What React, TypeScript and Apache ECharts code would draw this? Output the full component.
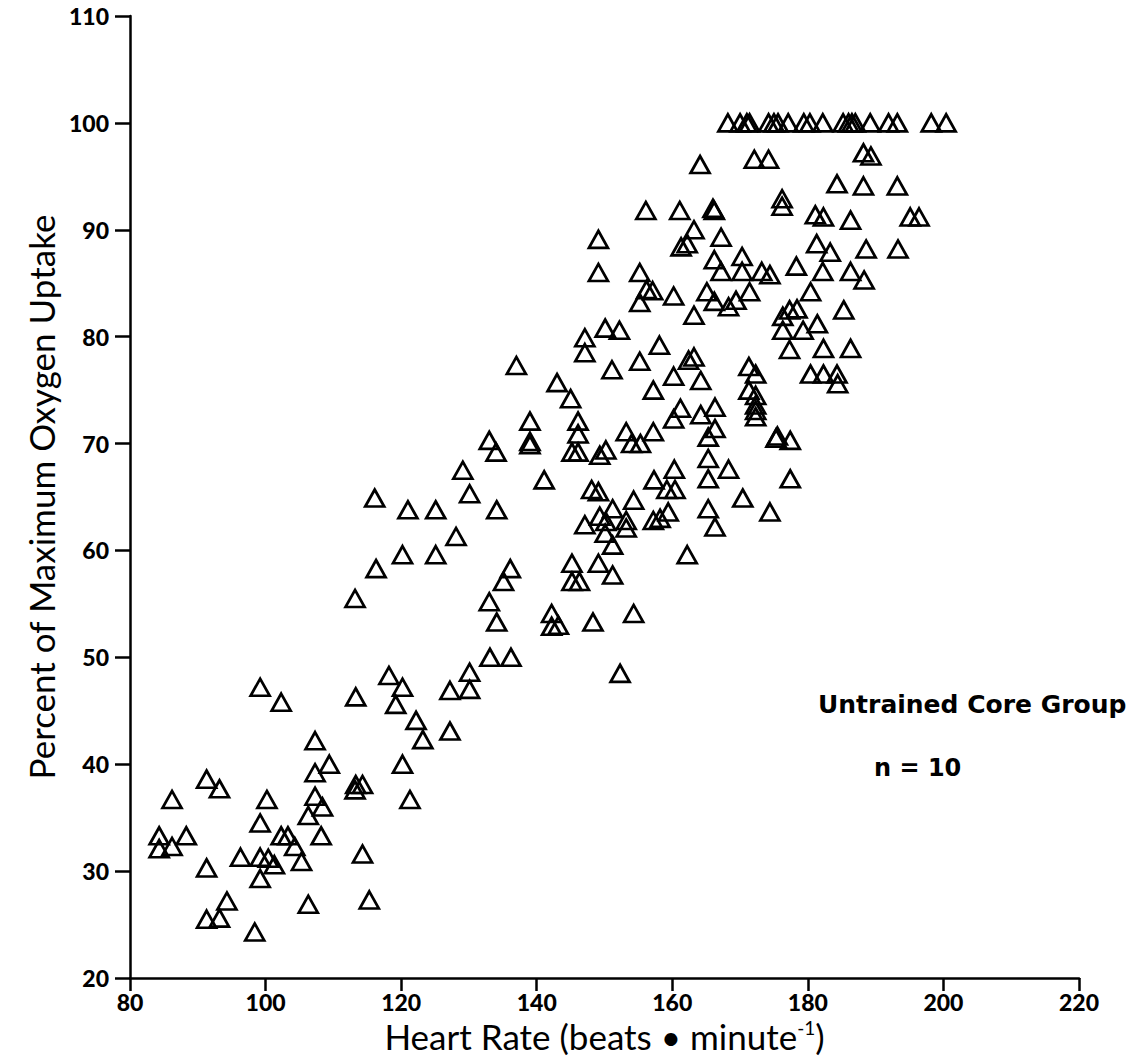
import React, { useEffect, useRef } from "react";
import * as echarts from "echarts";

const xTicks = [80, 100, 120, 140, 160, 180, 200, 220];
const yTicks = [20, 30, 40, 50, 60, 70, 80, 90, 100, 110];

// Heart rate (beats/min) of each observation
const heartRate = [
  168.2, 170.0, 171.0, 171.4, 174.2, 175.0, 175.6, 177.1, 179.4, 180.3, 182.2, 185.2, 186.0, 186.5, 187.0, 189.2, 191.9, 193.2, 198.2, 200.4,
  164.1, 172.1, 174.2, 188.2, 189.3, 184.3, 188.2, 193.2, 176.2, 176.2, 156.1, 161.1, 166.2, 166.0, 181.1, 182.3, 186.3, 195.1, 196.4, 163.2,
  162.2, 161.3, 149.1, 167.2, 181.3, 183.3, 188.6, 193.3, 166.2, 170.3, 149.1, 155.2, 167.2, 170.3, 173.2, 174.4, 178.3, 182.2, 186.3, 188.3,
  156.2, 157.1, 155.2, 160.2, 165.1, 166.2, 168.3, 169.4, 171.4, 180.4, 176.3, 177.3, 178.4, 185.3, 163.2, 150.1, 152.2, 147.1, 147.1, 137.0,
  158.1, 163.2, 162.4, 155.2, 151.1, 160.2, 164.2, 143.0, 157.2, 176.3, 179.3, 181.4, 177.3, 182.3, 186.3, 180.4, 182.3, 184.3, 184.4, 171.3,
  172.3, 171.3, 172.3, 145.0, 166.3, 172.3, 172.3, 172.3, 166.3, 165.3, 175.3, 175.5, 177.4, 165.3, 168.3, 165.3, 177.4, 170.4, 165.3, 174.4,
  166.3, 161.2, 160.2, 164.2, 139.0, 146.1, 146.1, 153.2, 157.2, 154.0, 155.3, 133.0, 134.0, 139.0, 139.0, 145.2, 146.1, 149.3, 150.2, 129.1,
  141.1, 130.1, 148.1, 149.1, 157.3, 160.3, 159.2, 160.4, 125.1, 134.1, 151.2, 154.3, 149.3, 150.2, 153.2, 153.2, 147.1, 150.1, 151.2, 157.2,
  158.2, 159.4, 128.1, 125.1, 162.2, 136.1, 135.1, 145.2, 145.2, 146.3, 149.1, 151.2, 133.0, 134.1, 142.2, 142.2, 143.2, 148.3, 154.3, 133.1,
  136.2, 130.1, 130.1, 127.2, 152.3, 116.1, 121.0, 116.3, 120.2, 113.2, 118.2, 120.2, 99.2, 102.3, 113.3, 119.2, 122.2, 123.2, 107.3, 109.4,
  107.3, 120.2, 91.3, 93.2, 86.2, 100.2, 113.3, 114.3, 113.2, 121.3, 107.3, 108.4, 106.3, 99.2, 84.3, 88.3, 84.3, 86.2, 102.3, 103.3,
  104.3, 108.2, 96.3, 99.2, 100.4, 101.3, 105.3, 91.3, 99.2, 114.3, 94.3, 91.3, 93.2, 98.4, 106.3, 115.3, 127.2,
];

// Percent of maximum oxygen uptake of each observation (same order)
const percentUptake = [
  100, 100, 100, 100, 100, 100, 100, 100, 100, 100, 100, 100, 100, 100, 100, 100, 100, 100, 100, 100,
  96.1, 96.6, 96.6, 97.2, 96.9, 94.3, 94.1, 94.1, 92.9, 92.2, 91.8, 91.8, 91.8, 92.0, 91.4, 91.2, 90.9, 91.2, 91.2, 90.0,
  88.7, 88.4, 89.1, 89.3, 88.7, 87.9, 88.2, 88.2, 87.2, 87.5, 86.0, 86.0, 86.1, 86.1, 86.1, 85.8, 86.6, 86.1, 86.1, 85.3,
  84.4, 84.3, 83.2, 83.8, 84.2, 83.3, 82.8, 83.4, 84.2, 84.2, 81.9, 82.5, 82.6, 82.5, 82.0, 80.8, 80.6, 79.9, 78.5, 77.3,
  79.2, 78.1, 77.8, 77.7, 76.9, 76.3, 75.9, 75.7, 75.0, 80.6, 80.6, 81.2, 78.8, 78.9, 78.9, 76.5, 76.5, 76.5, 75.6, 77.2,
  76.5, 75.0, 74.5, 74.2, 73.4, 73.6, 73.1, 72.5, 71.4, 70.6, 70.5, 70.7, 70.3, 68.6, 67.6, 66.7, 66.7, 64.9, 63.9, 63.6,
  62.2, 73.3, 72.3, 72.7, 72.1, 72.1, 70.9, 71.1, 71.1, 70.0, 70.0, 70.3, 69.2, 70.2, 69.9, 69.2, 69.2, 68.9, 69.4, 67.5,
  66.6, 65.3, 65.7, 65.5, 66.6, 67.6, 65.7, 65.7, 63.8, 63.8, 63.9, 64.7, 63.2, 62.7, 62.8, 62.1, 62.4, 61.6, 60.5, 62.8,
  63.0, 63.6, 61.3, 59.6, 59.6, 58.3, 57.1, 58.8, 57.1, 57.1, 58.8, 57.7, 55.2, 53.3, 54.1, 52.9, 53.0, 53.3, 54.1, 50.0,
  50.0, 48.6, 47.0, 46.9, 48.5, 64.9, 63.8, 58.3, 59.6, 55.5, 48.3, 47.2, 47.2, 45.8, 46.3, 45.6, 44.1, 42.3, 42.2, 40.0,
  39.2, 40.0, 38.6, 37.7, 36.7, 36.7, 38.1, 38.1, 37.6, 36.7, 37.0, 36.0, 35.2, 34.5, 33.3, 33.3, 32.1, 32.3, 33.3, 33.3,
  32.3, 33.3, 31.3, 31.3, 31.2, 30.6, 30.9, 30.3, 29.3, 31.6, 27.2, 25.5, 25.6, 24.3, 26.9, 27.3, 43.1,
];

const groupLabel = "Untrained Core Group";
const nLabel = "n = 10";

export default function App() {
  const ref = useRef<HTMLDivElement>(null);

  useEffect(() => {
    if (!ref.current) return;
    const chart = echarts.init(ref.current, undefined, { renderer: "svg" });
    const points = heartRate.map((x, i) => [x, percentUptake[i]]);
    const tickFont = {
      fontFamily: "Lato",
      fontWeight: 900,
      fontSize: 23,
      color: "#000",
    };
    chart.setOption({
      animation: false,
      backgroundColor: "#fff",
      grid: { left: 130, top: 16, right: 55, bottom: 86, containLabel: false },
      xAxis: {
        type: "value",
        min: xTicks[0],
        max: xTicks[xTicks.length - 1],
        interval: 20,
        name: "{a|Heart Rate (beats • minute}{s|-1}{a|)}",
        nameLocation: "middle",
        nameGap: 36,
        nameTextStyle: {
          rich: {
            a: { fontFamily: "Lato", fontSize: 35, color: "#000" },
            s: { fontFamily: "Lato", fontSize: 19, color: "#000", verticalAlign: "top", padding: [0, 0, 18, 0] },
          },
        },
        axisLine: { show: true, lineStyle: { color: "#000", width: 2.5 } },
        axisTick: { show: true, inside: false, length: 13, lineStyle: { color: "#000", width: 2.5 } },
        axisLabel: { ...tickFont, margin: 12 },
        splitLine: { show: false },
      },
      yAxis: {
        type: "value",
        min: yTicks[0],
        max: yTicks[yTicks.length - 1],
        interval: 10,
        name: "Percent of Maximum Oxygen Uptake",
        nameLocation: "middle",
        nameGap: 72,
        nameTextStyle: { fontFamily: "Lato", fontSize: 35, color: "#000" },
        axisLine: { show: true, lineStyle: { color: "#000", width: 2.5 } },
        axisTick: { show: true, inside: false, length: 15, lineStyle: { color: "#000", width: 2.5 } },
        axisLabel: { ...tickFont, margin: 21 },
        splitLine: { show: false },
      },
      series: [
        {
          type: "scatter",
          data: points,
          symbol: "triangle",
          symbolSize: [19, 17],
          itemStyle: { color: "rgba(0,0,0,0)", borderColor: "#000", borderWidth: 2.7, opacity: 1 },
          emphasis: { disabled: true },
        },
      ],
      graphic: [
        {
          type: "text",
          left: 818,
          top: 692,
          style: { text: groupLabel, fontFamily: "DejaVu Sans", fontWeight: "bold", fontSize: 25, fill: "#000" },
        },
        {
          type: "text",
          left: 874,
          top: 756,
          style: { text: nLabel, fontFamily: "DejaVu Sans", fontWeight: "bold", fontSize: 24, fill: "#000" },
        },
      ],
    });
    return () => chart.dispose();
  }, []);

  return (
    <div
      ref={ref}
      style={{ position: "fixed", left: 0, top: 0, width: 1134, height: 1064, background: "#fff" }}
    />
  );
}
